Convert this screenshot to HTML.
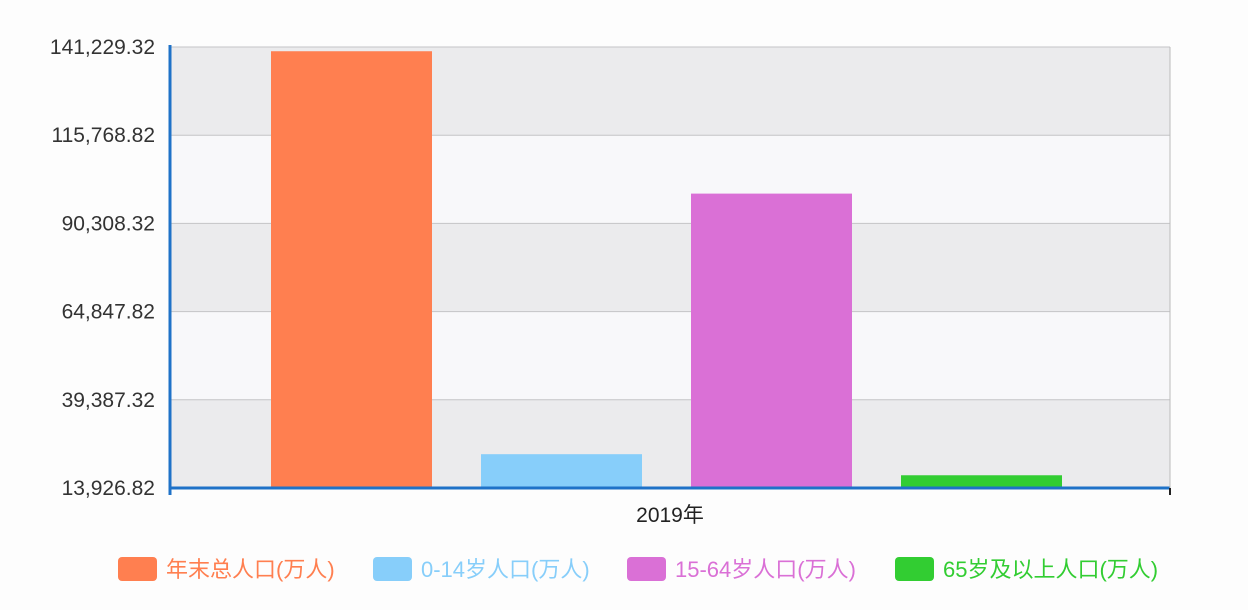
<!DOCTYPE html>
<html><head><meta charset="utf-8"><style>
body{margin:0;background:#fdfdfd;}
svg{display:block;font-family:"Liberation Sans","Noto Sans CJK SC",sans-serif;}
</style></head><body>
<svg id="chart" width="1248" height="610" viewBox="0 0 1248 610">
<g id="bands"></g><g id="grid"></g><g id="yticks"></g><g id="bars"></g><g id="axes"></g><g id="legend"></g>
</svg>
<script>
const categories=["年末总人口(万人)","0-14岁人口(万人)","15-64岁人口(万人)","65岁及以上人口(万人)"];
const values=[140005,23689,98910,17603];
const colors=["#ff7f50","#87cefa","#da70d6","#32cd32"];
const yTicks=[13926.82,39387.32,64847.82,90308.32,115768.82,141229.32];
const xLabel="2019年";
const NS="http://www.w3.org/2000/svg";
const x0=170,x1=1170,yb=488,yt=47;
const yMin=yTicks[0],yMax=yTicks[yTicks.length-1];
function y(v){return yb-(v-yMin)/(yMax-yMin)*(yb-yt);}
function mk(t,a,p){const e=document.createElementNS(NS,t);for(const k in a)e.setAttribute(k,a[k]);document.getElementById(p).appendChild(e);return e;}
for(let i=0;i<yTicks.length-1;i++){
 const r=mk("rect",{x:x0,y:y(yTicks[i+1]),width:x1-x0,height:y(yTicks[i])-y(yTicks[i+1]),fill:(i%2===0)?"#ebebed":"#f8f8fa"},"bands");
 
 
}
yTicks.forEach(v=>{
 const l=mk("line",{x1:x0,x2:x1,y1:y(v),y2:y(v),stroke:"#c4c4c6","stroke-width":1},"grid");
 
 
 const t=mk("text",{x:155,y:y(v)+7,"text-anchor":"end","font-size":21,fill:"#333"},"yticks");
 t.textContent=v.toLocaleString("en-US",{minimumFractionDigits:2,maximumFractionDigits:2});
 
 
});
const slot=(x1-x0)/(categories.length+0.76),bw=161;
values.forEach((v,i)=>{
 const cx=351.5+i*210;
 const r=mk("rect",{x:cx-bw/2,y:y(v),width:bw,height:yb-1-y(v),fill:colors[i]},"bars");
 
 
});
const ax=mk("line",{x1:x0,x2:x1,y1:yb,y2:yb,stroke:"#1f72c8","stroke-width":3},"axes");


const ay=mk("line",{x1:x0,x2:x0,y1:yt-2,y2:yb+7,stroke:"#1f72c8","stroke-width":3},"axes");


const rb=mk("line",{x1:x1,x2:x1,y1:yt,y2:yb,stroke:"#bbb","stroke-width":1},"axes");


const tk=mk("line",{x1:x1,x2:x1,y1:yb,y2:yb+7,stroke:"#222","stroke-width":2},"axes");


const xl=mk("text",{x:670,y:522,"text-anchor":"middle","font-size":21,fill:"#222"},"axes");
xl.textContent=xLabel;


const lx=[118,373,627,895];
categories.forEach((c,i)=>{
 const g=mk("g",{},"legend");
 
 
 const r=document.createElementNS(NS,"rect");
 r.setAttribute("x",lx[i]);r.setAttribute("y",557);r.setAttribute("width",39);r.setAttribute("height",24);r.setAttribute("rx",4);r.setAttribute("fill",colors[i]);
 
 
 g.appendChild(r);
 const t=document.createElementNS(NS,"text");
 t.setAttribute("x",lx[i]+48);t.setAttribute("y",577);t.setAttribute("font-size",22);t.setAttribute("fill",colors[i]);
 t.textContent=c;
 
 
 g.appendChild(t);
});
</script>
</body></html>
